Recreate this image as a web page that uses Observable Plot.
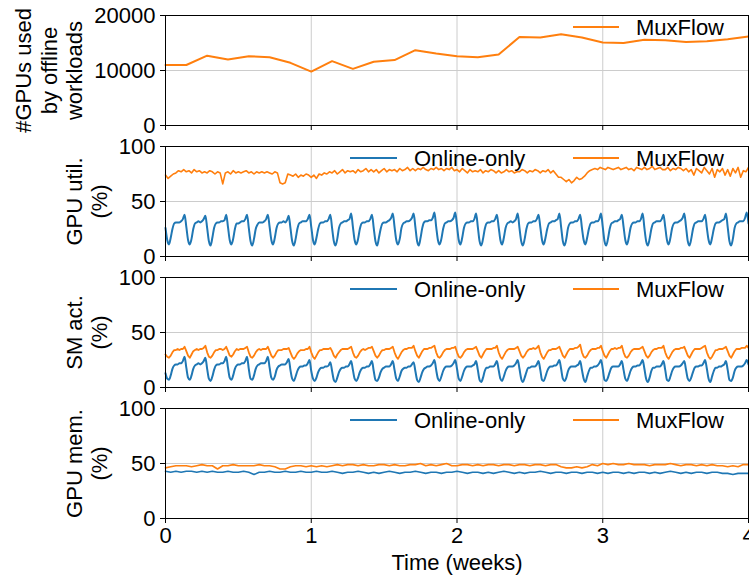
<!DOCTYPE html>
<html>
<head>
<meta charset="utf-8">
<script src="https://cdn.jsdelivr.net/npm/d3@7"></script>
<script src="https://cdn.jsdelivr.net/npm/@observablehq/plot@0.6"></script>
<style>
  body { margin: 0; background: #fff; }
  #chart { position: relative; width: 749px; height: 581px; font-family: "Liberation Sans", Arial, sans-serif; background: #fff; }
  #chart svg { position: absolute; left: 0; }
</style>
</head>
<body>
<div id="chart"></div>
<script>
// ---------- data ----------
const weekTicks = [0, 1, 2, 3, 4];
const gpuTicks = [0, 10000, 20000];
const pctTicks = [0, 50, 100];
const seriesNames = ["Online-only", "MuxFlow"];
const seriesColors = ["#1f77b4", "#ff7f0e"];
const panelLabels = ["#GPUs used\nby offline\nworkloads", "GPU util.\n(%)", "SM act.\n(%)", "GPU mem.\n(%)"];
const xLabel = "Time (weeks)";

// #GPUs used by offline workloads (MuxFlow), one value per day
const gpusOffline = [11000, 11000, 12700, 12000, 12600, 12400, 11400, 9800, 11700, 10300, 11600, 11900, 13700, 13100, 12600, 12400, 12900, 16100, 16000, 16600, 16000, 15100, 15000, 15600, 15500, 15200, 15300, 15700, 16200];

// GPU util (%) Online-only, 12 samples per day
const utilOnlinePerDay = 12;
const utilOnline = [
26,15,11,17,25,30,31,31,31,32,34,38,
27,15,11,16,25,30,31,32,31,32,34,37,
26,14,10,17,26,30,31,31,32,32,33,38,
27,15,11,16,25,30,30,31,32,32,34,38,
26,14,10,16,25,29,31,31,31,32,34,38,
27,15,11,17,26,30,31,31,32,31,33,37,
26,14,10,16,25,30,31,32,32,32,34,38,
27,15,11,17,25,30,31,31,32,32,34,38,
26,14,10,16,26,30,31,32,32,33,34,39,
27,15,11,16,25,30,31,31,32,32,34,38,
26,14,10,17,25,30,31,31,32,33,35,39,
27,15,11,16,26,30,31,32,32,33,35,39,
27,14,10,17,26,31,32,32,33,33,35,40,
27,15,11,16,25,30,31,32,32,33,35,40,
28,15,11,17,26,30,31,31,32,32,34,39,
27,14,10,16,25,30,31,31,32,32,34,38,
27,15,11,17,26,30,31,32,31,32,34,39,
26,14,10,16,25,30,31,31,32,32,34,38,
27,15,11,17,25,30,31,32,32,33,34,39,
27,14,10,16,26,30,31,31,32,32,34,38,
26,15,11,17,25,30,31,31,32,32,34,39,
27,14,10,16,25,30,31,32,32,33,34,38,
27,15,11,17,26,30,31,31,32,32,34,39,
26,14,10,16,25,30,31,32,32,32,34,38,
27,15,11,17,26,30,31,31,32,33,35,39,
27,14,10,16,25,30,31,32,32,32,34,38,
26,15,11,17,25,30,31,31,32,33,34,39,
27,14,10,16,26,30,31,32,32,32,35,40,
30];

// GPU util (%) MuxFlow, 8 samples per day
const utilMuxPerDay = 8;
const utilMux = [
74,71,73,75,76,78,77,79,
77,78,76,79,77,78,76,77,
76,78,77,75,77,76,66,76,
77,75,78,76,77,76,77,78,
76,77,75,77,76,77,76,77,
76,75,77,76,67,66,67,75,
74,73,75,72,74,73,75,74,
72,74,71,75,74,76,75,77,
76,78,75,77,79,76,78,77,
78,76,79,77,78,80,77,79,
77,79,76,78,80,77,79,78,
79,77,80,78,79,81,78,80,
78,80,79,81,79,78,80,79,
81,79,80,78,80,79,81,78,
79,77,80,78,76,79,77,78,
77,79,76,78,77,79,78,76,
78,76,77,79,77,78,76,77,
77,79,78,76,78,77,79,78,
76,78,77,79,76,78,75,72,
72,70,68,70,67,69,72,70,
71,73,76,78,79,80,79,81,
80,79,81,80,79,80,81,79,
80,81,79,80,78,81,80,79,
81,79,80,82,79,80,81,79,
79,81,78,80,79,81,80,78,
80,77,79,74,80,78,76,81,
78,75,80,72,79,77,80,74,
79,73,80,76,81,72,78,77,
81];

// SM activity (%) Online-only, 12 samples per day
const smOnlinePerDay = 12;
const smOnline = [
13,8,7,11,17,20,21,21,22,22,24,28,
18,9,7,11,17,20,21,22,21,22,24,27,
17,8,6,10,16,20,21,21,22,22,24,28,
18,9,7,11,17,20,21,21,22,22,24,28,
17,8,7,11,17,20,21,22,22,22,24,28,
18,9,7,10,16,19,20,21,21,21,23,26,
16,8,6,10,15,18,19,19,20,20,22,25,
15,8,6,9,14,17,18,18,19,19,20,23,
15,7,5,9,14,17,18,18,19,19,21,24,
16,8,6,9,14,17,18,18,19,19,21,24,
15,7,6,9,14,17,18,19,19,19,21,24,
16,8,6,10,15,17,18,18,19,19,21,23,
15,7,5,9,14,17,18,19,19,20,22,25,
16,8,6,10,15,18,19,19,19,20,22,25,
17,8,6,10,15,18,19,19,19,20,21,24,
16,7,5,9,15,18,18,19,19,19,21,24,
16,8,6,10,15,18,19,19,19,20,22,25,
17,8,5,9,14,18,18,19,19,19,21,24,
16,7,6,10,15,18,19,19,20,20,22,25,
17,8,6,9,15,18,19,19,19,20,21,24,
16,8,5,10,15,18,18,19,19,20,22,25,
17,7,6,9,14,18,19,19,19,19,21,24,
16,8,6,10,15,18,19,19,20,20,22,25,
17,8,5,9,15,18,18,19,19,19,21,24,
16,7,6,10,15,18,19,19,19,20,22,24,
16,8,6,9,14,18,19,19,20,20,22,25,
17,8,5,10,15,18,18,19,19,20,21,24,
16,7,6,9,15,18,19,19,19,20,22,25,
21];

// SM activity (%) MuxFlow, 12 samples per day
const smMuxPerDay = 12;
const smMux = [
30,28,27,29,32,34,34,35,34,35,35,37,
33,29,27,30,33,34,35,34,35,35,36,38,
32,28,27,29,32,34,34,35,35,34,35,37,
33,29,28,30,33,35,34,35,35,35,36,37,
32,28,27,29,32,34,35,34,35,35,35,37,
33,29,27,29,32,34,34,34,35,35,35,36,
32,28,26,28,31,33,34,34,34,35,35,37,
32,28,26,29,32,34,34,35,35,35,35,36,
33,29,27,30,32,34,35,35,35,35,36,37,
32,28,27,29,32,34,35,34,35,36,36,37,
33,29,27,29,32,34,34,35,35,35,36,37,
32,28,26,29,32,34,35,35,36,36,36,38,
33,29,27,30,33,35,35,35,36,36,37,38,
32,28,27,29,32,34,35,35,35,36,36,37,
32,28,27,29,32,34,35,35,35,35,36,37,
33,29,27,30,33,35,35,35,35,36,36,38,
32,28,26,29,32,34,35,35,35,35,36,37,
33,29,27,29,32,34,35,35,36,35,36,38,
32,28,26,29,32,34,34,35,35,35,36,37,
33,29,27,30,33,35,35,35,36,36,37,39,
32,28,27,29,32,34,35,35,35,36,36,38,
33,29,27,30,33,35,35,36,35,36,36,38,
32,28,27,29,32,34,35,35,35,35,36,37,
33,29,27,29,32,34,35,35,36,36,36,38,
32,28,26,29,32,34,35,35,35,36,36,37,
33,29,27,30,33,35,35,35,35,36,37,38,
32,28,26,28,31,34,34,35,35,35,36,37,
33,29,27,30,33,35,35,35,36,36,36,38,
36];

// GPU memory (%) Online-only, 4 samples per day
const memOnlinePerDay = 4;
const memOnline = [
43,42,43,42, 43,43,42,43, 42,43,42,42, 43,42,42,43, 42,40,42,42, 43,42,42,43, 42,42,43,42,
42,43,42,42, 43,42,41,42, 42,43,42,41, 42,41,42,43, 42,41,42,42, 43,42,41,42, 42,41,42,42,
43,42,41,42, 42,41,42,41, 42,43,42,41, 42,41,42,42, 43,42,41,42, 42,41,42,42, 41,42,42,41,
42,41,42,42, 41,42,41,42, 42,41,42,41, 42,43,42,41, 42,41,42,42, 41,42,42,41, 41,40,41,41,
41];

// GPU memory (%) MuxFlow, 4 samples per day
const memMuxPerDay = 4;
const memMux = [
46,47,48,48, 48,47,48,49, 48,48,45,48, 48,49,48,48, 48,48,49,48, 48,47,45,45, 47,48,48,47,
48,47,48,47, 48,49,48,49, 49,48,49,48, 48,49,49,48, 49,48,48,49, 49,50,48,49, 48,49,50,48,
48,49,49,48, 49,48,49,49, 48,49,49,48, 49,49,48,49, 49,48,49,49, 47,46,46,47, 46,47,49,48,
50,49,50,49, 49,50,49,49, 49,48,49,49, 49,50,49,48, 49,49,48,49, 48,49,48,48, 47,48,47,49,
49];

// ---------- drawing ----------
const FONT = "'Liberation Sans', Arial, sans-serif";
const W = 749;
const gridColor = "#cccccc";

const panels = [
  {label: panelLabels[0], labelDx: -117, yDomain: [0, 20000], yTicks: gpuTicks,
   series: [{values: gpusOffline, perDay: 1, color: seriesColors[1], w: 2, curve: "linear"}], legend: [1]},
  {label: panelLabels[1], labelDx: -79, yDomain: [0, 100], yTicks: pctTicks,
   series: [{values: utilOnline, perDay: utilOnlinePerDay, color: seriesColors[0], w: 2, curve: "monotone-x"},
            {values: utilMux, perDay: utilMuxPerDay, color: seriesColors[1], w: 1.6, curve: "linear"}], legend: [0, 1]},
  {label: panelLabels[2], labelDx: -79, yDomain: [0, 100], yTicks: pctTicks,
   series: [{values: smOnline, perDay: smOnlinePerDay, color: seriesColors[0], w: 2, curve: "monotone-x"},
            {values: smMux, perDay: smMuxPerDay, color: seriesColors[1], w: 1.8, curve: "linear"}], legend: [0, 1]},
  {label: panelLabels[3], labelDx: -79, yDomain: [0, 100], yTicks: pctTicks,
   series: [{values: memOnline, perDay: memOnlinePerDay, color: seriesColors[0], w: 1.6, curve: "linear"},
            {values: memMux, perDay: memMuxPerDay, color: seriesColors[1], w: 1.6, curve: "linear"}], legend: [0, 1]}
];

const chart = document.getElementById("chart");
const step = 131, mTop = 15, plotH = 110;

panels.forEach((p, k) => {
  const bottom = k === panels.length - 1;
  const height = bottom ? 188 : step;
  const marks = [
    Plot.ruleX(weekTicks, {stroke: gridColor, strokeWidth: 1}),
    Plot.ruleY(p.yTicks, {stroke: gridColor, strokeWidth: 1}),
    ...p.series.map(s => Plot.lineY(s.values, {
      x: (d, i) => i / (s.perDay * 7), y: d => d,
      stroke: s.color, strokeWidth: s.w, strokeLinejoin: "round", curve: s.curve
    })),
    Plot.frame({stroke: "black", strokeWidth: 1}),
    Plot.axisX({ticks: weekTicks, tickSize: 5, tickPadding: 4,
      tickFormat: bottom ? (d => String(d)) : (() => ""), label: null, fontSize: 22}),
    Plot.axisY({ticks: p.yTicks, tickSize: 5, tickPadding: 5,
      tickFormat: d => String(d), label: null, fontSize: 22}),
    Plot.text([p.label], {frameAnchor: "left", rotate: -90, dx: p.labelDx,
      fontSize: 22, lineHeight: 1.15, fill: "black", textAnchor: "middle", lineAnchor: "middle"})
  ];
  if (bottom) {
    marks.push(Plot.text([xLabel], {frameAnchor: "bottom", dy: 44, fontSize: 22, fill: "black",
      textAnchor: "middle", lineAnchor: "middle"}));
  }
  const svg = Plot.plot({
    width: W, height,
    marginTop: mTop, marginBottom: height - mTop - plotH,
    marginLeft: 165, marginRight: 1,
    x: {domain: [0, 4]},
    y: {domain: p.yDomain},
    style: {fontFamily: FONT, fontSize: "22px", color: "black", background: "transparent", overflow: "visible"},
    marks
  });
  svg.style.top = (k * step) + "px";
  chart.appendChild(svg);
});

// legends (overlay)
const leg = d3.select(chart).append("svg")
  .attr("width", W).attr("height", 581)
  .style("top", "0px").style("overflow", "visible").style("pointer-events", "none");
const itemPos = [{x0: 350, x1: 397, tx: 414}, {x0: 573, x1: 619, tx: 636}];
panels.forEach((p, k) => {
  const y = k * step + mTop + 12;
  p.legend.forEach(si => {
    const pos = itemPos[si];
    leg.append("line").attr("x1", pos.x0).attr("x2", pos.x1).attr("y1", y).attr("y2", y)
      .attr("stroke", seriesColors[si]).attr("stroke-width", 2);
    leg.append("text").attr("x", pos.tx).attr("y", y + 8)
      .attr("font-family", FONT).attr("font-size", 22).attr("fill", "black")
      .text(seriesNames[si]);
  });
});
</script>
</body>
</html>
